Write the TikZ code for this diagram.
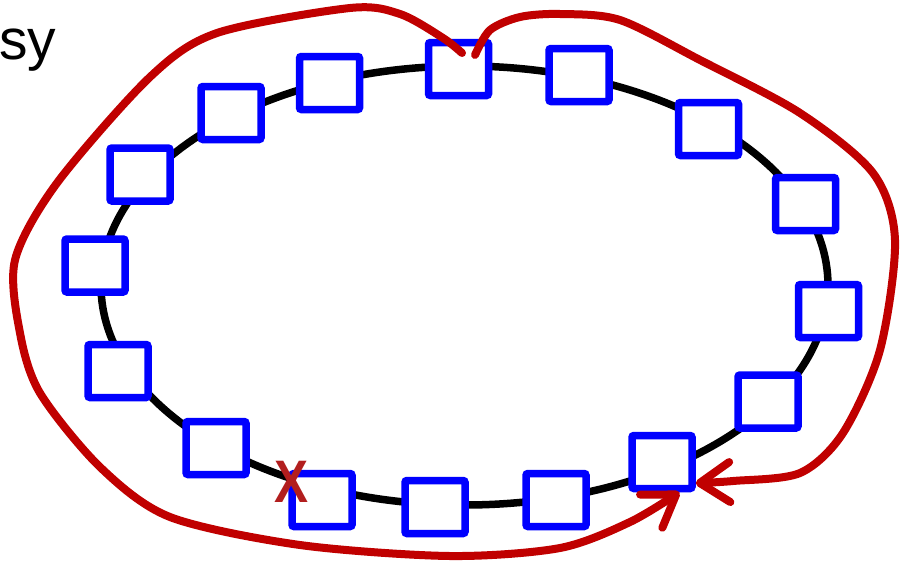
\documentclass[tikz,border=0pt]{standalone}
\usepackage{fontspec}
\setmainfont{Liberation Sans}
\usepackage{xcolor}
\usepackage{tikz}
\usetikzlibrary{arrows.meta,positioning}

\definecolor{slotblue}{RGB}{0,0,255}
\definecolor{loopred}{RGB}{192,0,0}
\definecolor{markred}{RGB}{178,30,30}

\begin{document}
\begin{tikzpicture}[
    x=1pt, y=-1pt,
    ring/.style={draw=black, line width=7.5pt},
    slot/.style={draw=slotblue, fill=white, line width=7.5pt, rounded corners=2pt,
        minimum width=60pt, minimum height=53pt, inner sep=0pt},
    loopline/.style={draw=loopred, line width=8pt, line cap=round,
        -{Straight Barb[length=30pt,width=40pt,round]}}
]
\useasboundingbox (0,0) rectangle (907,560);

% ring of slots
\draw[ring] (464.5,285.5) ellipse [x radius=363.5pt, y radius=219.5pt];
\foreach \px/\py [count=\i] in {458.5/69, 579/75, 708.5/129, 805.5/204, 828.5/311,
    768/401.5, 662/462, 556/500, 435/507, 322/500, 216/448, 118/371, 95/265.5,
    140/174.5, 231/113, 329.5/83}
    \node[slot] (s\i) at (\px,\py) {};

% text
\node[anchor=base west, inner sep=0pt, font=\fontsize{57}{60}\selectfont] (word) at (-1,59) {sy};
\coordinate (capL) at (462,53);
\coordinate (capR) at (475,55);

% the two red loops ending at the same slot
\draw[loopline] plot[smooth] coordinates {(capL) (443,38) (400,14) (350,8) (217,33)
    (150,77) (57,183) (15,260) (20,333) (40,393) (100,467) (170,517) (300,545)
    (450,556) (560,548) (630,522) (s7.-60)};
\draw[loopline] plot[smooth] coordinates {(capR) (490,30) (520,17) (560,14) (620,20)
    (700,60) (800,113) (873,173) (895,240) (880,350) (843,433) (800,473) (733,481)
    (s7.-32)};

\node[inner sep=0pt, text=markred, xscale=0.85, font=\bfseries\fontsize{60}{64}\selectfont] (mark) at (292,482) {X};
\end{tikzpicture}
\end{document}
